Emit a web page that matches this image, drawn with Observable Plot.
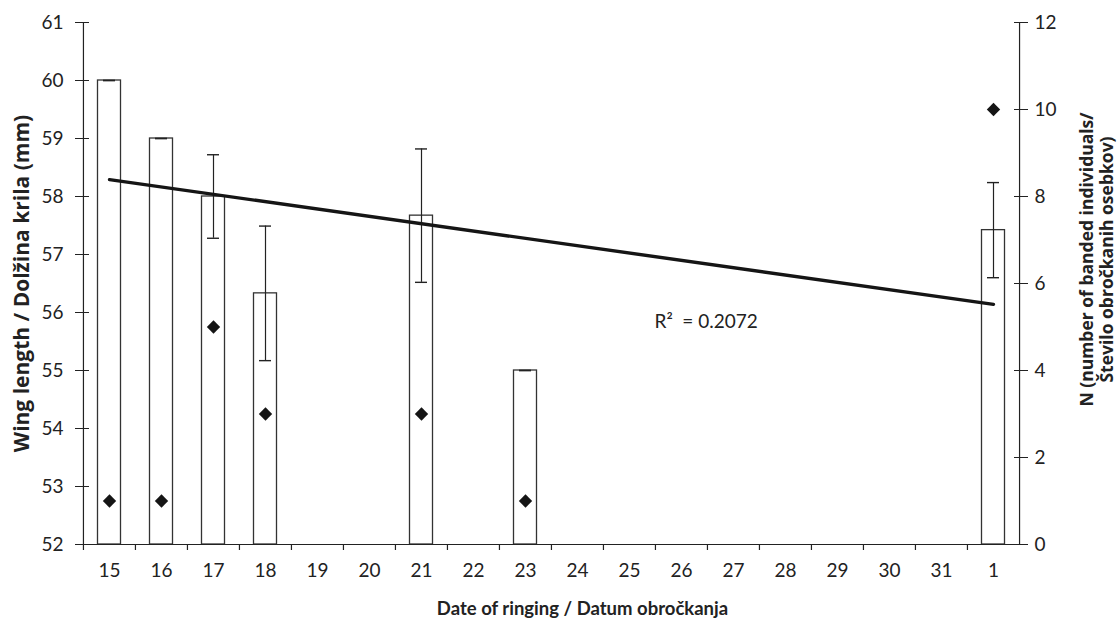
<!DOCTYPE html>
<html>
<head>
<meta charset="utf-8">
<script src="https://cdn.jsdelivr.net/npm/d3@7"></script>
<script src="https://cdn.jsdelivr.net/npm/@observablehq/plot@0.6"></script>
<style>
  html, body { margin: 0; padding: 0; background: #fff; }
  #chart { width: 1120px; height: 628px; }
</style>
</head>
<body>
<div id="chart"></div>
<script>
// ---- data ----
const dates = ["15","16","17","18","19","20","21","22","23","24","25","26","27","28","29","30","31","1"];
const barDates = ["15","16","17","18","21","23","1"];
const wingMean = [60.0, 59.0, 58.0, 56.33, 57.67, 55.0, 57.42];
const wingErr  = [0, 0, 0.72, 1.16, 1.15, 0, 0.82];
const nBanded  = [1, 1, 5, 3, 3, 1, 10];
const trendDates = ["15", "1"];
const trendWing  = [58.29, 56.14];
const leftTicks  = [52, 53, 54, 55, 56, 57, 58, 59, 60, 61];
const rightTicks = [0, 2, 4, 6, 8, 10, 12];
const r2Label = {date: "26", wing: 55.83, text: "R\u00B2\u2002= 0.2072"};

// ---- layout ----
const W = 1120, H = 628;
const mL = 82, mR = 100, mT = 22, mB = 84;
const bw = (W - mL - mR) / dates.length;
const yMin = 52, yMax = 61, nMax = 12;
const toLeft = n => yMin + n * (yMax - yMin) / nMax;
const fromLeft = v => Math.round((v - yMin) * nMax / (yMax - yMin));

const rows = barDates.map((d, i) => ({date: d, mean: wingMean[i], err: wingErr[i], n: nBanded[i]}));
const trend = trendDates.map((d, i) => ({date: d, wing: trendWing[i]}));

const ink = "#222";
const font = "Lato, 'Open Sans', sans-serif";
const titleFont = "'Open Sans', Lato, sans-serif";

const chart = Plot.plot({
  width: W, height: H,
  marginLeft: mL, marginRight: mR, marginTop: mT, marginBottom: mB,
  style: {fontFamily: font, fontSize: "19px", color: ink, background: "#fff"},
  x: {type: "band", domain: dates, padding: 0, axis: null},
  y: {domain: [yMin, yMax], axis: null},
  marks: [
    // bars
    Plot.barY(rows, {x: "date", y1: yMin, y2: "mean", fill: "#fff", stroke: "#333", strokeWidth: 1.3, insetLeft: 14.5, insetRight: 14.5}),
    // error bars
    Plot.ruleX(rows, {x: "date", y1: d => d.mean - d.err, y2: d => d.mean + d.err, stroke: ink, strokeWidth: 1.2}),
    Plot.tickY(rows, {x: "date", y: d => d.mean + d.err, stroke: ink, strokeWidth: 1.4, insetLeft: 20, insetRight: 20}),
    Plot.tickY(rows, {x: "date", y: d => d.mean - d.err, stroke: ink, strokeWidth: 1.4, insetLeft: 20, insetRight: 20}),
    // trend line
    Plot.line(trend, {x: "date", y: "wing", stroke: "#151515", strokeWidth: 3.4}),
    // N diamonds (right axis)
    Plot.dot(rows, {x: "date", y: d => toLeft(d.n), symbol: "diamond2", r: 6, fill: "#151515", stroke: "none"}),
    // R^2 label
    Plot.text([r2Label], {x: "date", y: "wing", text: "text", textAnchor: "start", dx: -27, fontSize: 19, fill: ink}),
    // axis lines
    Plot.ruleY([yMin], {stroke: ink, strokeWidth: 1.2}),
    Plot.ruleX([dates[0]], {dx: -bw / 2, stroke: ink, strokeWidth: 1.2}),
    Plot.ruleX([dates[dates.length - 1]], {dx: bw / 2, stroke: ink, strokeWidth: 1.2}),
    // left axis (cross ticks)
    Plot.axisY(leftTicks, {anchor: "left", label: null, tickSize: 14, dx: 7, tickPadding: 12, fontSize: 19, stroke: ink, color: ink, tickFormat: d => String(d)}),
    // right axis (cross ticks)
    Plot.axisY(rightTicks.map(toLeft), {anchor: "right", label: null, tickSize: 14, dx: -7, tickPadding: 7, fontSize: 19, stroke: ink, color: ink, tickFormat: d => String(fromLeft(d))}),
    // x axis ticks at band boundaries
    Plot.ruleX(dates, {x: d => d, y1: yMin, y2: yMin, insetBottom: -6, dx: -bw / 2, stroke: ink, strokeWidth: 1.2}),
    Plot.axisX(dates, {anchor: "bottom", label: null, tickSize: 0, tickPadding: 19, fontSize: 19, color: ink}),
    // titles
    Plot.text(["Date of ringing / Datum obročkanja"], {frameAnchor: "bottom", text: d => d, textAnchor: "middle", dy: 70, dx: 31, fontSize: 18.5, fontWeight: "bold", fill: ink}),
    Plot.text(["Wing length / Dolžina krila (mm)"], {frameAnchor: "left", text: d => d, textAnchor: "middle", rotate: -90, dx: -60, fontFamily: titleFont, fontSize: 21, fontWeight: "bold", fill: ink}),
    Plot.text(["N (number of banded individuals/\nŠtevilo obročkanih osebkov)"], {frameAnchor: "right", text: d => d, textAnchor: "middle", rotate: -90, dx: 76, dy: -24, lineHeight: 1.12, fontFamily: titleFont, fontSize: 17.5, fontWeight: "bold", fill: ink})
  ]
});
document.getElementById("chart").appendChild(chart);
</script>
</body>
</html>
